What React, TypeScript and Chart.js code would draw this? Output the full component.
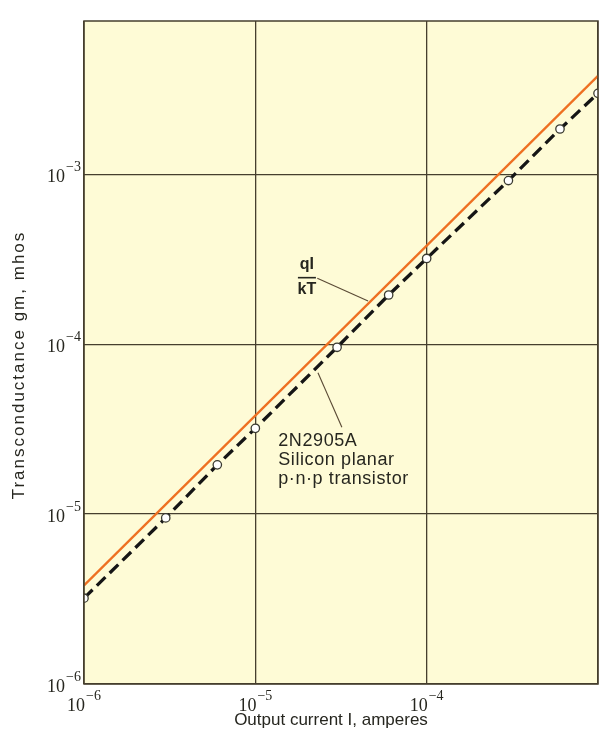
import React, { useEffect, useRef } from "react";
import { Chart, registerables } from "chart.js";

Chart.register(...registerables);

// ---- data ----
const currentAmps = [1e-6, 3e-6, 6e-6, 1e-5, 3e-5, 6e-5, 1e-4, 3e-4, 6e-4, 1e-3];
const measuredGm = [3.2e-6, 9.5e-6, 1.95e-5, 3.2e-5, 9.6e-5, 1.95e-4, 3.2e-4, 9.2e-4, 1.85e-3, 3.0e-3];
const theoryCurrent = [1e-6, 1e-3];
const theoryGm = [3.8e-6, 3.8e-3];

const xGridValues = [1e-6, 1e-5, 1e-4, 1e-3];
const yGridValues = [1e-6, 1e-5, 1e-4, 1e-3];
const xTickValues = [1e-6, 1e-5, 1e-4];
const xTickExponents = ["−6", "−5", "−4"];
const yTickValues = [1e-6, 1e-5, 1e-4, 1e-3];
const yTickExponents = ["−6", "−5", "−4", "−3"];

const xTitle = "Output current I, amperes";
const yTitle = "Transconductance gm, mhos";
const theoryLabelTop = "qI";
const theoryLabelBottom = "kT";
const deviceLabel = ["2N2905A", "Silicon planar", "p·n·p transistor"];

// annotation anchors in data coordinates
const theoryLabelAt = { x: 2.0e-5, y: 2.5e-4 };
const theoryLeader = [{ x: 2.3e-5, y: 2.45e-4 }, { x: 4.55e-5, y: 1.8e-4 }];
const deviceLabelAt = { x: 1.36e-5, y: 2.68e-5 };
const deviceLeader = [{ x: 2.32e-5, y: 6.8e-5 }, { x: 3.2e-5, y: 3.25e-5 }];

const GRID = "#463f2e";
const BG = "#fefbd6";
const INK = "#26261f";
const SANS = "'Liberation Sans', Arial, sans-serif";
const SERIF = "'Liberation Serif', 'DejaVu Serif', serif";

const decorPlugin = {
  id: "decor",
  beforeDraw(chart: any) {
    const { ctx, chartArea: a } = chart;
    ctx.save();
    ctx.fillStyle = BG;
    ctx.fillRect(a.left, a.top, a.right - a.left, a.bottom - a.top);
    ctx.restore();
  },
  afterDraw(chart: any) {
    const { ctx, chartArea: a, scales } = chart;
    const xs = scales.x;
    const ys = scales.y;
    ctx.save();
    // frame
    ctx.strokeStyle = GRID;
    ctx.lineWidth = 1.5;
    ctx.strokeRect(a.left, a.top, a.right - a.left, a.bottom - a.top);

    ctx.fillStyle = INK;
    const BASE = `18px ${SERIF}`;
    const EXP = `14px ${SERIF}`;
    // y tick labels
    yTickValues.forEach((v, i) => {
      const py = ys.getPixelForValue(v);
      ctx.font = BASE;
      const baseW = ctx.measureText("10").width;
      ctx.font = EXP;
      const expW = ctx.measureText(yTickExponents[i]).width;
      const right = a.left - 3;
      const left = right - expW - baseW - 1;
      ctx.textAlign = "left";
      ctx.textBaseline = "alphabetic";
      ctx.font = BASE;
      ctx.fillText("10", left, py + 8);
      ctx.font = EXP;
      ctx.fillText(yTickExponents[i], left + baseW + 1, py - 3);
    });
    // x tick labels
    xTickValues.forEach((v, i) => {
      const px = xs.getPixelForValue(v);
      ctx.font = BASE;
      const baseW = ctx.measureText("10").width;
      ctx.font = EXP;
      const expW = ctx.measureText(xTickExponents[i]).width;
      const total = baseW + expW + 1;
      const left = px - total / 2;
      ctx.textAlign = "left";
      ctx.textBaseline = "alphabetic";
      ctx.font = BASE;
      ctx.fillText("10", left, a.bottom + 27);
      ctx.font = EXP;
      ctx.fillText(xTickExponents[i], left + baseW + 1, a.bottom + 16);
    });

    // axis titles
    ctx.fillStyle = INK;
    ctx.font = `17px ${SANS}`;
    ctx.textAlign = "center";
    ctx.textBaseline = "middle";
    ctx.fillText(xTitle, (a.left + a.right) / 2 - 10, a.bottom + 36);
    ctx.save();
    ctx.translate(19, 365);
    ctx.rotate(-Math.PI / 2);
    ctx.font = `17px ${SANS}`;
    (ctx as any).letterSpacing = "2px";
    ctx.fillText(yTitle, 0, 0);
    ctx.restore();

    // theory annotation (fraction)
    const tx = xs.getPixelForValue(theoryLabelAt.x);
    const ty = ys.getPixelForValue(theoryLabelAt.y);
    ctx.font = `bold 16px ${SANS}`;
    ctx.textAlign = "center";
    ctx.textBaseline = "middle";
    ctx.fillStyle = INK;
    ctx.fillText(theoryLabelTop, tx, ty - 12);
    ctx.fillText(theoryLabelBottom, tx, ty + 13);
    ctx.strokeStyle = INK;
    ctx.lineWidth = 1.6;
    ctx.beginPath();
    ctx.moveTo(tx - 9, ty + 1);
    ctx.lineTo(tx + 9, ty + 1);
    ctx.stroke();
    ctx.strokeStyle = "#5a4a35";
    ctx.lineWidth = 1.1;
    ctx.beginPath();
    ctx.moveTo(xs.getPixelForValue(theoryLeader[0].x), ys.getPixelForValue(theoryLeader[0].y));
    ctx.lineTo(xs.getPixelForValue(theoryLeader[1].x), ys.getPixelForValue(theoryLeader[1].y));
    ctx.stroke();

    // device annotation
    const dx = xs.getPixelForValue(deviceLabelAt.x);
    const dy = ys.getPixelForValue(deviceLabelAt.y);
    ctx.save();
    ctx.font = `18px ${SANS}`;
    (ctx as any).letterSpacing = "0.6px";
    ctx.textAlign = "left";
    ctx.textBaseline = "middle";
    deviceLabel.forEach((line, i) => {
      ctx.fillText(line, dx, dy + i * 19);
    });
    ctx.restore();
    ctx.beginPath();
    ctx.moveTo(xs.getPixelForValue(deviceLeader[0].x), ys.getPixelForValue(deviceLeader[0].y));
    ctx.lineTo(xs.getPixelForValue(deviceLeader[1].x), ys.getPixelForValue(deviceLeader[1].y));
    ctx.stroke();
    ctx.restore();
  },
};

export default function App() {
  const ref = useRef<HTMLCanvasElement | null>(null);

  useEffect(() => {
    if (!ref.current) return;
    const chart = new Chart(ref.current, {
      type: "scatter",
      data: {
        datasets: [
          {
            label: "qI/kT",
            data: theoryCurrent.map((x, i) => ({ x, y: theoryGm[i] })),
            showLine: true,
            borderColor: "#ee7022",
            borderWidth: 2.4,
            pointRadius: 0,
            order: 2,
          },
          {
            label: "2N2905A",
            data: currentAmps.map((x, i) => ({ x, y: measuredGm[i] })),
            showLine: true,
            borderColor: "#151515",
            borderWidth: 3.3,
            borderDash: [12, 6],
            pointRadius: 4.2,
            pointBackgroundColor: "#ffffff",
            pointBorderColor: "#3a3a30",
            pointBorderWidth: 1.3,
            order: 1,
          },
        ],
      },
      options: {
        responsive: false,
        animation: false,
        layout: { padding: { left: 84, right: 11, top: 21, bottom: 48 } },
        plugins: { legend: { display: false }, tooltip: { enabled: false } },
        scales: {
          x: {
            type: "logarithmic",
            min: 1e-6,
            max: 1e-3,
            afterBuildTicks: (s: any) => {
              s.ticks = xGridValues.map((value) => ({ value }));
            },
            ticks: { display: false },
            grid: { color: GRID, lineWidth: 1.3, drawTicks: false },
            border: { display: false },
            title: { display: false },
          },
          y: {
            type: "logarithmic",
            min: 1e-6,
            max: 8e-3,
            afterBuildTicks: (s: any) => {
              s.ticks = yGridValues.map((value) => ({ value }));
            },
            ticks: { display: false },
            grid: { color: GRID, lineWidth: 1.3, drawTicks: false },
            border: { display: false },
            title: { display: false },
          },
        },
      },
      plugins: [decorPlugin],
    } as any);
    return () => chart.destroy();
  }, []);

  return (
    <div style={{ position: "fixed", left: 0, top: 0, width: 609, height: 732, background: "#ffffff" }}>
      <canvas ref={ref} width={609} height={732} />
    </div>
  );
}
